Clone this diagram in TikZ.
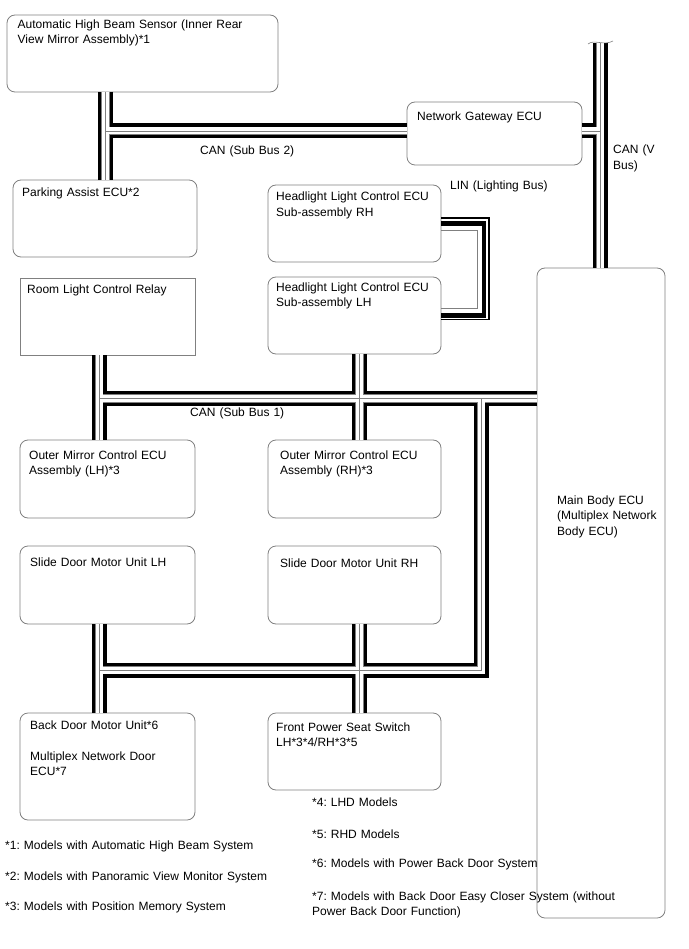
\documentclass[tikz,border=0pt]{standalone}
\usepackage{fontspec}
\setmainfont{Liberation Sans}
\frenchspacing

\newcommand\canlines{%
  (j2 |- sensor.south) -- (j2 |- parking.north)
  (j2) -- (j2 -| gateway.west)
  (vtop) -- (vtop |- mainbody.north)
  (jv -| gateway.east) -- (jv)
  (j1l |- relay.south) -- (j1l |- mirrorlh.north)
  (j1m |- hllh.south) -- (j1m |- mirrorrh.north)
  (j1l) -- (j1l -| mainbody.west)
  (j1r) -- (j3) -- (j3 -| j1l)
  (j1l |- slidelh.south) -- (j1l |- backdoor.north)
  (j1m |- sliderh.south) -- (j1m |- seat.north)}

\begin{document}
\begin{tikzpicture}[x=1pt,y=-1pt,
  ecu/.style={draw=gray,line width=0.8pt,rounded corners=8pt,inner sep=0pt,outer sep=0pt,anchor=north west},
  txt/.style={anchor=base west,inner sep=0pt,text width=360pt,align=left,font=\fontsize{12}{15.5}\selectfont}]

\useasboundingbox (0,0) rectangle (688,949);

\node[ecu,minimum width=271pt,minimum height=77pt] (sensor) at (7,15) {};
\node[ecu,minimum width=175pt,minimum height=63pt] (gateway) at (407,102) {};
\node[ecu,minimum width=184pt,minimum height=77pt] (parking) at (13,180) {};
\node[ecu,minimum width=173pt,minimum height=77pt] (hlrh) at (268,185) {};
\node[ecu,sharp corners,minimum width=175pt,minimum height=77pt] (relay) at (20,278) {};
\node[ecu,minimum width=173pt,minimum height=77pt] (hllh) at (268,277) {};
\node[ecu,minimum width=128pt,minimum height=650pt] (mainbody) at (537,268) {};
\node[ecu,minimum width=175pt,minimum height=78pt] (mirrorlh) at (20,440) {};
\node[ecu,minimum width=173pt,minimum height=78pt] (mirrorrh) at (268,440) {};
\node[ecu,minimum width=175pt,minimum height=78pt] (slidelh) at (20,546) {};
\node[ecu,minimum width=173pt,minimum height=78pt] (sliderh) at (268,546) {};
\node[ecu,minimum width=175pt,minimum height=107pt] (backdoor) at (20,713) {};
\node[ecu,minimum width=173pt,minimum height=77pt] (seat) at (268,713) {};

\node[txt] (sensor-t) at ([shift={(10.5,13.3)}]sensor.north west) {Automatic High Beam Sensor (Inner Rear\\View Mirror Assembly)*1};
\node[txt] (gateway-t) at ([shift={(10,19)}]gateway.north west) {Network Gateway ECU};
\node[txt] (parking-t) at ([shift={(9,17)}]parking.north west) {Parking Assist ECU*2};
\node[txt] (hlrh-t) at ([shift={(8,16)}]hlrh.north west) {Headlight Light Control ECU\\Sub-assembly RH};
\node[txt] (relay-t) at ([shift={(7,15)}]relay.north west) {Room Light Control Relay};
\node[txt] (hllh-t) at ([shift={(8,14)}]hllh.north west) {Headlight Light Control ECU\\Sub-assembly LH};
\node[txt] (mainbody-t) at (557,504) {Main Body ECU\\(Multiplex Network\\Body ECU)};
\node[txt] (mirrorlh-t) at ([shift={(9,19)}]mirrorlh.north west) {Outer Mirror Control ECU\\Assembly (LH)*3};
\node[txt] (mirrorrh-t) at ([shift={(12,19)}]mirrorrh.north west) {Outer Mirror Control ECU\\Assembly (RH)*3};
\node[txt] (slidelh-t) at ([shift={(10,20)}]slidelh.north west) {Slide Door Motor Unit LH};
\node[txt] (sliderh-t) at ([shift={(12,21)}]sliderh.north west) {Slide Door Motor Unit RH};
\node[txt] (backdoor-t) at ([shift={(10,16)}]backdoor.north west) {Back Door Motor Unit*6\\[15.5pt]Multiplex Network Door\\ECU*7};
\node[txt] (seat-t) at ([shift={(8,18)}]seat.north west) {Front Power Seat Switch\\LH*3*4/RH*3*5};

\coordinate (j2) at (105.5,131);
\coordinate (jv) at (600,131);
\coordinate (vtop) at (600,43);
\coordinate (j1l) at (99,398.5);
\coordinate (j1m) at (359.5,398.5);
\coordinate (j1r) at (481,398.5);
\coordinate (j3) at (481,670);

\draw[line width=15pt,line join=miter] \canlines;
\draw[gray,line width=8.5pt,line join=miter] \canlines;
\draw[white,line width=7pt,line join=miter] \canlines;
\draw[gray,line width=0.9pt] \canlines;

\draw[gray,line width=0.6pt] ([shift={(-12,1)}]vtop) .. controls ([shift={(-6,-4)}]vtop) and ([shift={(4,3)}]vtop) .. ([shift={(13,-2)}]vtop);

\draw[line width=1.2pt] ([yshift=5.5pt]hlrh.east) -- ++(48,0) |- ([yshift=-4pt]hllh.east);
\draw[line width=4.5pt,line join=miter] (hlrh.east) -- ++(43,0) |- (hllh.east);
\draw[gray,line width=0.9pt] ([yshift=-6.5pt]hlrh.east) -- ++(36.5,0) |- ([yshift=7pt]hllh.east);

\node[txt] (sb2-t) at (200,155) {CAN (Sub Bus 2)};
\node[txt] (sb1-t) at (190,416) {CAN (Sub Bus 1)};
\node[txt] (lin-t) at (450,190) {LIN (Lighting Bus)};
\node[txt] (vbus-t) at (613,154) {CAN (V\\Bus)};

\node[txt] (note4) at (312,806) {*4: LHD Models};
\node[txt] (note5) at (312,838) {*5: RHD Models};
\node[txt] (note6) at (312,867) {*6: Models with Power Back Door System};
\node[txt] (note7) at (312,900) {*7: Models with Back Door Easy Closer System (without\\Power Back Door Function)};
\node[txt] (note1) at (5,849) {*1: Models with Automatic High Beam System};
\node[txt] (note2) at (5,880) {*2: Models with Panoramic View Monitor System};
\node[txt] (note3) at (5,910) {*3: Models with Position Memory System};

\end{tikzpicture}
\end{document}
